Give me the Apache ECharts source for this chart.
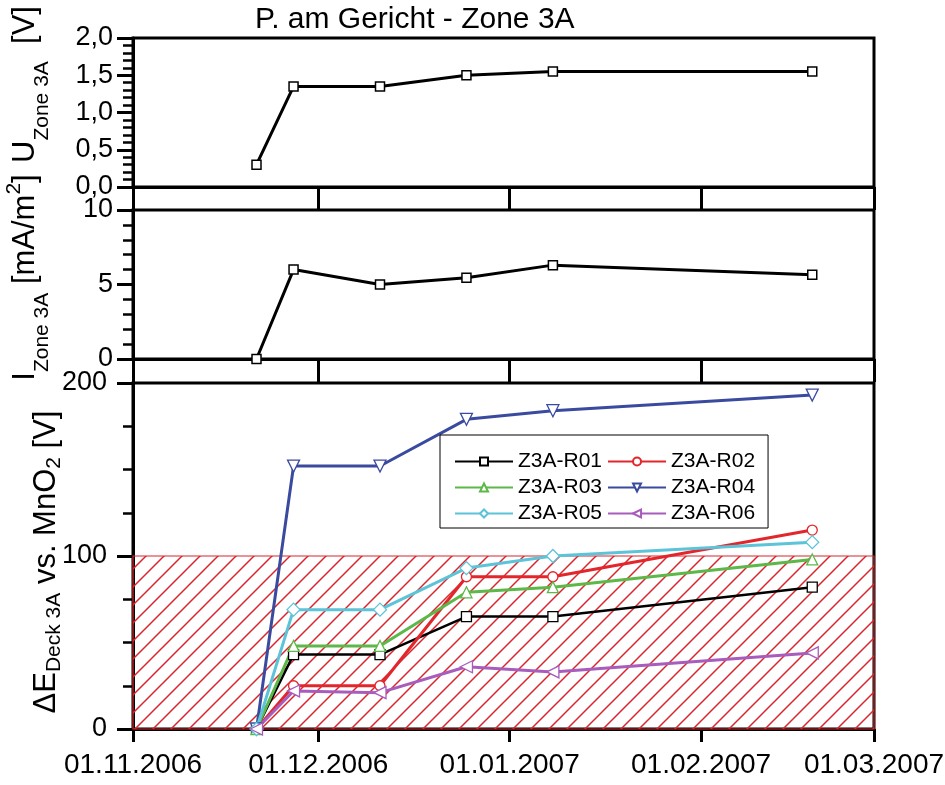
<!DOCTYPE html>
<html>
<head>
<meta charset="utf-8">
<script src="https://cdn.jsdelivr.net/npm/echarts@6/dist/echarts.min.js"></script>
<style>html,body{margin:0;padding:0;background:#fff}#c{width:945px;height:785px}</style>
</head>
<body>
<div id="c"></div>
<script>
// ---- data ----
const dates = ['2006-11-21', '2006-11-27', '2006-12-11', '2006-12-25', '2007-01-08', '2007-02-19'];
const monthTicks = ['2006-11-01', '2006-12-01', '2007-01-01', '2007-02-01', '2007-03-01'];
const uZone = [0.3, 1.35, 1.35, 1.5, 1.55, 1.55];
const iZone = [0, 6.0, 5.0, 5.45, 6.3, 5.65];
const seriesNames = ['Z3A-R01', 'Z3A-R02', 'Z3A-R03', 'Z3A-R04', 'Z3A-R05', 'Z3A-R06'];
const r01 = [0, 43, 43, 65, 65, 82];
const r02 = [0, 25, 25, 88, 88, 115];
const r03 = [0, 48, 48, 79, 82, 98];
const r04 = [0, 152, 152, 179, 184, 193];
const r05 = [0, 69, 69, 93, 100, 108];
const r06 = [0, 22, 21, 36, 33, 44];
const limitValue = 100;

// ---- helpers ----
function ts(s) { const p = s.split('-').map(Number); return new Date(p[0], p[1] - 1, p[2]).getTime(); }
function pairs(vals) { return vals.map((v, i) => [ts(dates[i]), v]); }
function pad2(n) { return (n < 10 ? '0' : '') + n; }
function fmtDate(v) { const d = new Date(v); return pad2(d.getDate()) + '.' + pad2(d.getMonth() + 1) + '.' + d.getFullYear(); }
const tickTs = monthTicks.map(ts);
const FONT = 'Liberation Sans, Arial, sans-serif';

// hatch pattern
const hs = 18;
const hc = document.createElement('canvas');
hc.width = hs; hc.height = hs;
const hx = hc.getContext('2d');
hx.strokeStyle = '#d8262e'; hx.lineWidth = 1.5;
hx.beginPath();
hx.moveTo(-2, hs + 2); hx.lineTo(hs + 2, -2);
hx.moveTo(-2, 2); hx.lineTo(2, -2);
hx.moveTo(hs - 2, hs + 2); hx.lineTo(hs + 2, hs - 2);
hx.stroke();

const grids = [
  { left: 133, right: 71, top: 38, height: 149 },
  { left: 133, right: 71, top: 210, height: 149 },
  { left: 133, right: 71, top: 383, height: 346 }
].map(g => Object.assign({ show: true, borderColor: '#000', borderWidth: 3, backgroundColor: 'transparent', outerBoundsMode: 'none', containLabel: false }, g));

function xAx(i) {
  return {
    type: 'value', gridIndex: i, min: tickTs[0], max: tickTs[tickTs.length - 1],
    axisLine: { show: true, lineStyle: { color: '#000', width: 3 } },
    axisTick: { show: true, inside: false, length: i === 2 ? 13 : 23, lineStyle: { color: '#000', width: 3 }, customValues: tickTs },
    axisLabel: { show: i === 2, customValues: tickTs, formatter: fmtDate, fontSize: 28, color: '#000', fontFamily: FONT, margin: 22, showMinLabel: true, showMaxLabel: true, hideOverlap: false },
    splitLine: { show: false }, minorTick: { show: false }
  };
}

const mStyle = { fontSize: 31, lineHeight: 36, padding: [6, 0, 0, 0], verticalAlign: 'top', color: '#000', fontFamily: FONT };
const sStyle = { fontSize: 21, lineHeight: 22, padding: [28, 0, 0, 0], verticalAlign: 'top', color: '#000', fontFamily: FONT };
const s2Style = { fontSize: 21, lineHeight: 22, padding: [19, 0, 0, 0], verticalAlign: 'top', color: '#000', fontFamily: FONT };
const pStyle = { fontSize: 21, lineHeight: 22, padding: [0, 0, 0, 0], verticalAlign: 'top', color: '#000', fontFamily: FONT };

function yAx(i, min, max, interval, minorSplit, fmt, name, nameGap, namePad, margin) {
  return {
    type: 'value', gridIndex: i, min: min, max: max, interval: interval,
    axisLine: { show: true, lineStyle: { color: '#000', width: 3 } },
    axisTick: { show: true, inside: false, length: 16, lineStyle: { color: '#000', width: 3 } },
    minorTick: { show: true, splitNumber: minorSplit, length: 10, lineStyle: { color: '#000', width: 2.5 } },
    splitLine: { show: false }, minorSplitLine: { show: false },
    axisLabel: { fontSize: 27, color: '#000', fontFamily: FONT, margin: margin, formatter: fmt, showMinLabel: true, showMaxLabel: true },
    name: name, nameLocation: 'middle', nameRotate: 90, nameGap: nameGap, nameMoveOverlap: false,
    nameTextStyle: { padding: namePad, rich: { m: mStyle, s: sStyle, t: s2Style, p: pStyle } }
  };
}

const colors = ['#000000', '#e3262b', '#5cb848', '#3a4a9e', '#5bc4d8', '#a85cbc'];
const symbols = ['rect', 'circle', 'triangle', 'triangle', 'diamond', 'triangle'];
const rotates = [0, 0, 0, 180, 0, 90];
const sizes = [10, 10, 11, 12, 13, 12];
const bottomVals = [r01, r02, r03, r04, r05, r06];

const series = [
  { name: 'U', type: 'line', xAxisIndex: 0, yAxisIndex: 0, data: pairs(uZone), symbol: 'rect', symbolSize: 9,
    itemStyle: { color: '#fff', borderColor: '#000', borderWidth: 1.5 }, lineStyle: { color: '#000', width: 3 }, z: 3 },
  { name: 'I', type: 'line', xAxisIndex: 1, yAxisIndex: 1, data: pairs(iZone), symbol: 'rect', symbolSize: 9,
    itemStyle: { color: '#fff', borderColor: '#000', borderWidth: 1.5 }, lineStyle: { color: '#000', width: 3 }, z: 3 }
];
bottomVals.forEach((vals, k) => {
  const s = {
    name: seriesNames[k], type: 'line', xAxisIndex: 2, yAxisIndex: 2, data: pairs(vals),
    symbol: symbols[k], symbolSize: sizes[k], symbolRotate: rotates[k],
    itemStyle: { color: '#fff', borderColor: colors[k], borderWidth: 1.3 },
    lineStyle: { color: colors[k], width: k === 0 ? 2.5 : 3 }, z: 3
  };
  if (k === 0) {
    s.markArea = {
      silent: true,
      itemStyle: { color: { image: hc, repeat: 'repeat' }, borderColor: '#d8262e', borderWidth: 1.2 },
      data: [[{ yAxis: 0 }, { yAxis: limitValue }]]
    };
  }
  series.push(s);
});

const option = {
  backgroundColor: '#fff',
  animation: false,
  title: { text: 'P. am Gericht - Zone 3A', left: 250, top: 0, textStyle: { fontSize: 30, fontWeight: 'normal', color: '#000', fontFamily: FONT } },
  grid: grids,
  xAxis: [xAx(0), xAx(1), xAx(2)],
  yAxis: [
    yAx(0, 0, 2, 0.5, 5, v => v.toFixed(1).replace('.', ','), '{m|U}{s|Zone 3A}{m|  [V]}', 93, [0, 0, 0, 56], 20),
    yAx(1, 0, 10, 5, 5, v => String(v), '{m|I}{s|Zone 3A}{m| [mA/m}{p|2}{m|]}', 93, [0, 0, 0, 14], 20),
    yAx(2, 0, 200, 100, 4, v => String(v), '{m|ΔE}{t|Deck 3A}{m| vs. MnO}{t|2}{m| [V]}', 72, [0, 12, 0, 0], 26)
  ],
  legend: {
    data: seriesNames, left: 440, top: 435, width: 310, orient: 'horizontal',
    padding: [16, 13, 4, 14], itemGap: 5, itemWidth: 58, itemHeight: 10,
    borderColor: '#000', borderWidth: 1, backgroundColor: '#fff',
    textStyle: { fontSize: 21, width: 86, color: '#000', fontFamily: FONT }
  },
  series: series
};

const chart = echarts.init(document.getElementById('c'), null, { renderer: 'canvas' });
chart.setOption(option);
</script>
</body>
</html>
